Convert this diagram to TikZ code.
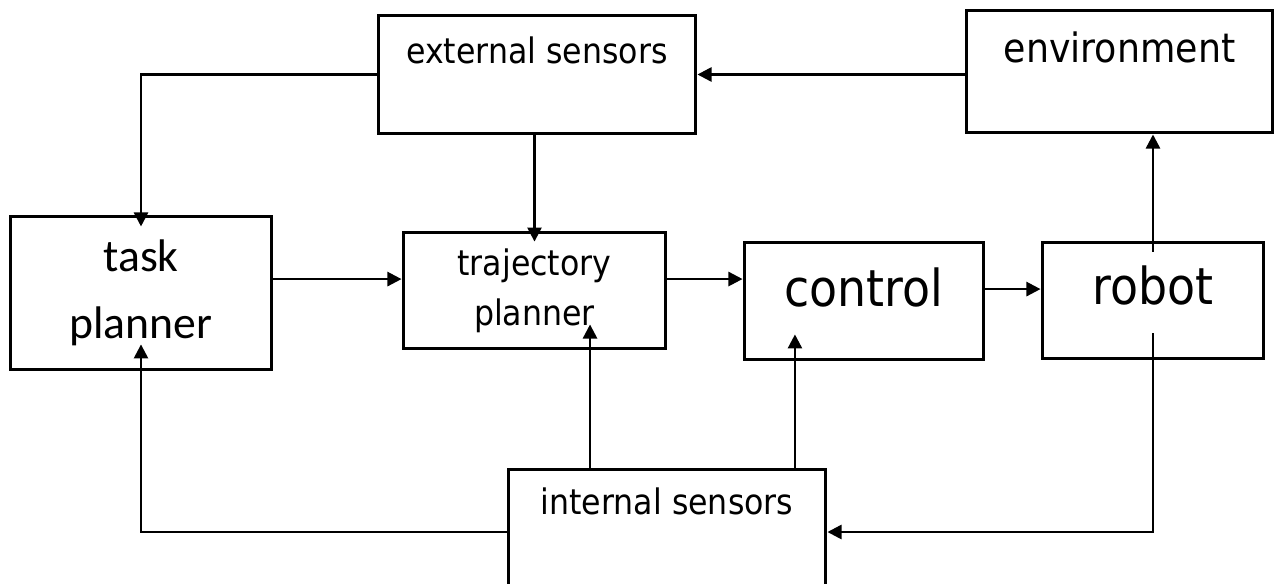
\documentclass[tikz,border=0pt]{standalone}
\usepackage{fontspec}
\usepackage{tikz}
\usetikzlibrary{arrows.meta}
\newfontfamily\tah[FakeStretch=0.9]{DejaVu Sans}
\newfontfamily\carl{Carlito}

\begin{document}
\begin{tikzpicture}[
    x=0.02cm, y=-0.02cm,
    box/.style={draw, line width=1.7pt, inner sep=0pt, align=center},
    haut/.style={box, font=\tah\fontsize{20}{24}\selectfont, text height=15pt, text depth=28pt},
    gros/.style={box, font=\tah\fontsize{29}{34}\selectfont, text height=22pt},
    conn/.style={line width=1.4pt, -{Triangle[length=8pt,width=8pt]}},
  ]
  \useasboundingbox (0,0) rectangle (1276,584);

  % les blocs
  \node[haut, minimum width=6.36cm, minimum height=2.38cm] (ext) at (537,74.5) {external sensors};
  \node[haut, font=\tah\fontsize{23}{27}\selectfont, text height=17.5pt, text depth=28.3pt,
        minimum width=6.14cm, minimum height=2.46cm] (env) at (1119.5,71.5) {environment};
  \node[box, font=\carl\fontsize{26}{38}\selectfont,
        minimum width=5.24cm, minimum height=3.08cm] (task) at (141,293) {task\\planner};
  \node[box, font=\tah\fontsize{20}{28.5}\selectfont,
        minimum width=5.26cm, minimum height=2.34cm] (traj) at (534.5,290.5) {trajectory\\planner};
  \node[gros, text depth=15.2pt, minimum width=4.8cm, minimum height=2.36cm] (ctrl) at (864,301) {control};
  \node[gros, text depth=16.9pt, minimum width=4.44cm, minimum height=2.34cm] (robot) at (1153,300.5) {robot};
  \node[haut, text depth=30.4pt, minimum width=6.36cm, minimum height=2.38cm] (int) at (667,528.5) {internal sensors};

  % points d'accroche
  \coordinate (a1) at ([yshift=6.5pt]traj.west);
  \coordinate (a2) at ([yshift=12.5pt]ctrl.west);
  \coordinate (a3) at ([yshift=6.5pt]robot.west);
  \coordinate (a5) at ([yshift=-2pt]int.east);
  \coordinate (a6) at ([yshift=-2pt]int.west);
  \coordinate (a7) at ([xshift=31.6pt]traj.south);
  \coordinate (a8) at ([xshift=-39.3pt]ctrl.south);

  \draw[conn, shorten >=-6.8pt] (ext.west) -| (task.north);
  \draw[conn, shorten >=-6.3pt] (traj.north |- ext.south) -- (traj.north);
  \draw[conn] (env.west |- ext.east) -- (ext.east);
  \draw[conn] (a1 -| task.east) -- (a1);
  \draw[conn] (a2 -| traj.east) -- (a2);
  \draw[conn] (a3 -| ctrl.east) -- (a3);
  \draw[conn] ([yshift=-6.3pt]robot.north) -- (robot.north |- env.south);
  \draw[conn] ([yshift=15.4pt]robot.south) |- (a5);
  \draw[conn, shorten >=-15.4pt] (a6) -| (task.south);
  \draw[conn, shorten >=-14.8pt] (a7 |- int.north) -- (a7);
  \draw[conn, shorten >=-15.4pt] (a8 |- int.north) -- (a8);
\end{tikzpicture}
\end{document}
